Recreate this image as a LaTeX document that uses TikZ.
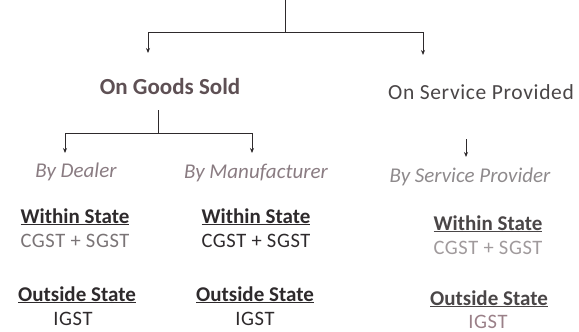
\documentclass[tikz,border=0pt]{standalone}
\usepackage{fontspec}
\setmainfont{Carlito}
\newfontfamily\widefont[LetterSpace=3]{Carlito}
\usetikzlibrary{arrows.meta}
\definecolor{headc}{HTML}{5E5054}
\definecolor{servc}{HTML}{4A4647}
\definecolor{subc}{HTML}{8A7C82}
\definecolor{provc}{HTML}{8E8A8C}
\definecolor{darkc}{HTML}{2E2A2C}
\definecolor{greyc}{HTML}{7A7476}
\definecolor{lightc}{HTML}{A09A9C}
\definecolor{pinkc}{HTML}{9A8088}
\begin{document}
\begin{tikzpicture}[y=-1pt, x=1pt, font=\fontsize{21}{24}\selectfont,
	line/.style={draw=darkc, line width=1pt},
	arr/.style={line, -{Stealth[length=5pt,width=4pt]}},
	head/.style={text=headc, anchor=base, inner sep=0pt},
	sub/.style={text=subc, font=\fontsize{21}{24}\selectfont\itshape, anchor=base, inner sep=0pt},
	place/.style={text=darkc, font=\fontsize{21}{24}\selectfont\bfseries, anchor=base, inner sep=0pt},
	tax/.style={font=\fontsize{20.5}{24}\widefont, anchor=base, inner sep=0pt}]
	\useasboundingbox (0,0) rectangle (579,332);
	%headings
	\node[head, font=\fontsize{23}{26}\selectfont\bfseries] (goods) at (170,94) {On Goods Sold};
	\node[head, text=servc, font=\fontsize{21.5}{25}\widefont] (service) at (481,99) {On Service Provided};
	%sellers
	\node[sub] (dealer) at (76,177) {By Dealer};
	\node[sub] (maker) at (256,178) {By Manufacturer};
	\node[sub, text=provc] (provider) at (470,182) {By Service Provider};
	%states
	\node[place] (win1) at (75,223) {\underline{Within State}};
	\node[tax, text=greyc] (cgst1) at (75,247) {CGST + SGST};
	\node[place] (out1) at (77,301) {\underline{Outside State}};
	\node[tax, text=darkc] (igst1) at (73,325) {IGST};
	\node[place] (win2) at (256,223) {\underline{Within State}};
	\node[tax, text=darkc] (cgst2) at (256,247) {CGST + SGST};
	\node[place] (out2) at (255,301) {\underline{Outside State}};
	\node[tax, text=darkc] (igst2) at (255,325) {IGST};
	\node[place, text=servc] (win3) at (488,230) {\underline{Within State}};
	\node[tax, text=lightc] (cgst3) at (488,254) {CGST + SGST};
	\node[place, text=servc] (out3) at (489,305) {\underline{Outside State}};
	\node[tax, text=pinkc] (igst3) at (488,328) {IGST};
	%connectors
	\coordinate (root) at (285,0);
	\coordinate (split) at (285,32);
	\coordinate (goodsin) at (148,53);
	\coordinate (servicein) at (423,55);
	\draw[line] (root) -- (split);
	\draw[arr] (split) -| (goodsin);
	\draw[arr] (split) -| (servicein);
	\coordinate (gstart) at (158,110);
	\coordinate (gsplit) at (158,133);
	\coordinate (dealerin) at (65,153);
	\coordinate (makerin) at (252,153);
	\draw[line] (gstart) -- (gsplit);
	\draw[arr] (gsplit) -| (dealerin);
	\draw[arr] (gsplit) -| (makerin);
	\coordinate (sstart) at (466,139);
	\coordinate (providerin) at (466,157);
	\draw[arr] (sstart) -- (providerin);
\end{tikzpicture}
\end{document}
